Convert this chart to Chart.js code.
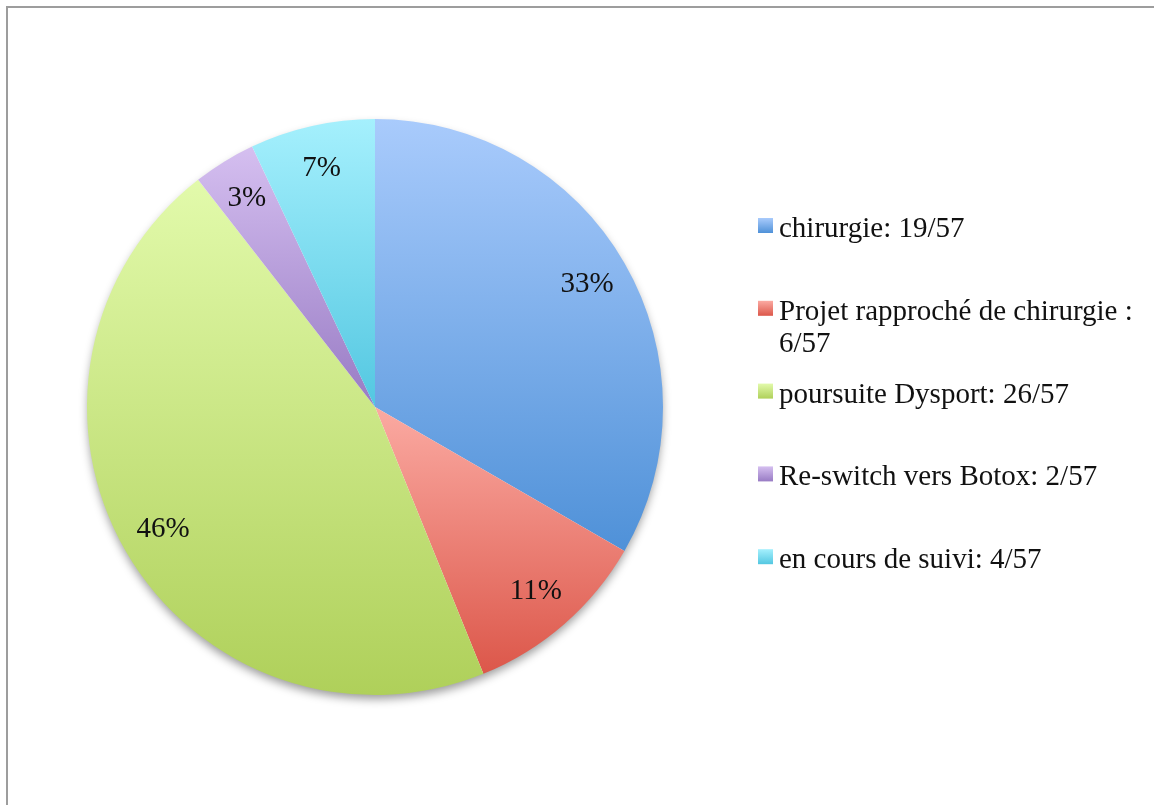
<!DOCTYPE html>
<html>
<head>
<meta charset="utf-8">
<script src="https://cdn.jsdelivr.net/npm/chart.js@4"></script>
<style>
  html, body { margin: 0; background: #fff; }
  #frame {
    position: absolute; left: 6px; top: 6px; width: 1148px; height: 799px;
    border-left: 2px solid #9d9d9d; border-top: 2px solid #9d9d9d;
  }
  #box { position: relative; width: 1146px; height: 797px; }
</style>
</head>
<body>
<div id="frame"><div id="box"><canvas id="pie"></canvas></div></div>
<script>
// data
const categories = [
  'chirurgie: 19/57',
  ['Projet rapproché de chirurgie :', '6/57'],
  'poursuite Dysport: 26/57',
  'Re-switch vers Botox: 2/57',
  'en cours de suivi: 4/57',
];
const counts = [19, 6, 26, 2, 4];
const percentLabels = ['33%', '11%', '46%', '3%', '7%'];

// slice fills, light at the top of each slice, darker at the bottom
const topColors = ['#a9cbfc', '#fbaaa2', '#e2faab', '#d5bff0', '#a5f0fd'];
const bottomColors = ['#4f91d8', '#dc574a', '#afd05a', '#987bc4', '#53c7e1'];

const FONT = '"Liberation Serif", "DejaVu Serif", serif';

function inArc(a, s, e) {
  while (a < s) a += Math.PI * 2;
  return a <= e;
}

// vertical extent of a slice, used for its gradient
function arcYRange(arc) {
  const r = arc.outerRadius;
  const ys = [arc.y, arc.y + Math.sin(arc.startAngle) * r, arc.y + Math.sin(arc.endAngle) * r];
  if (inArc(-Math.PI / 2, arc.startAngle, arc.endAngle)) ys.push(arc.y - r);
  if (inArc(Math.PI / 2, arc.startAngle, arc.endAngle)) ys.push(arc.y + r);
  return [Math.min(...ys), Math.max(...ys)];
}

const sliceStyle = {
  id: 'sliceStyle',
  beforeDatasetsDraw(chart) {
    const ctx = chart.ctx;
    const arcs = chart.getDatasetMeta(0).data;
    const a0 = arcs[0];

    // soft drop shadow under the pie
    ctx.save();
    ctx.shadowColor = 'rgba(0,0,0,0.4)';
    ctx.shadowBlur = 10;
    ctx.shadowOffsetY = 5;
    ctx.beginPath();
    ctx.arc(a0.x, a0.y, a0.outerRadius - 1, 0, Math.PI * 2);
    ctx.fillStyle = '#fff';
    ctx.fill();
    ctx.restore();

    arcs.forEach((arc, i) => {
      const [top, bottom] = arcYRange(arc);
      const g = ctx.createLinearGradient(0, top, 0, bottom);
      g.addColorStop(0, topColors[i]);
      g.addColorStop(1, bottomColors[i]);
      arc.options.backgroundColor = g;
    });
  },
  afterDatasetsDraw(chart) {
    const ctx = chart.ctx;
    const arcs = chart.getDatasetMeta(0).data;
    ctx.save();
    ctx.font = '29px ' + FONT;
    ctx.fillStyle = '#111';
    ctx.textAlign = 'center';
    ctx.textBaseline = 'middle';
    arcs.forEach((arc, i) => {
      const mid = (arc.startAngle + arc.endAngle) / 2;
      const r = arc.outerRadius * 0.85;
      ctx.fillText(percentLabels[i], arc.x + Math.cos(mid) * r, arc.y + Math.sin(mid) * r);
    });
    ctx.restore();
  },
};

// legend on the right, one slot per category, second line just overflows
const legendBox = {
  id: 'legendBox',
  afterDraw(chart) {
    const ctx = chart.ctx;
    const x = 750, top = 210, step = 82.8, size = 15;
    ctx.save();
    ctx.font = '29px ' + FONT;
    ctx.textBaseline = 'alphabetic';
    chart.data.labels.forEach((label, i) => {
      const y = top + i * step;
      const g = ctx.createLinearGradient(0, y, 0, y + size);
      g.addColorStop(0, topColors[i]);
      g.addColorStop(1, bottomColors[i]);
      ctx.fillStyle = g;
      ctx.fillRect(x, y, size, size);
      ctx.fillStyle = '#111';
      const lines = Array.isArray(label) ? label : [label];
      lines.forEach((t, j) => ctx.fillText(t, x + 21, y + 19 + j * 32));
    });
    ctx.restore();
  },
};

new Chart(document.getElementById('pie'), {
  type: 'pie',
  data: {
    labels: categories,
    datasets: [{
      data: counts,
      backgroundColor: topColors.slice(),
      borderWidth: 0,
    }],
  },
  options: {
    responsive: true,
    maintainAspectRatio: false,
    animation: false,
    events: [],
    layout: { padding: { left: 79, right: 491, top: 111, bottom: 110 } },
    plugins: {
      legend: { display: false },
      tooltip: { enabled: false },
    },
  },
  plugins: [sliceStyle, legendBox],
});
</script>
</body>
</html>
